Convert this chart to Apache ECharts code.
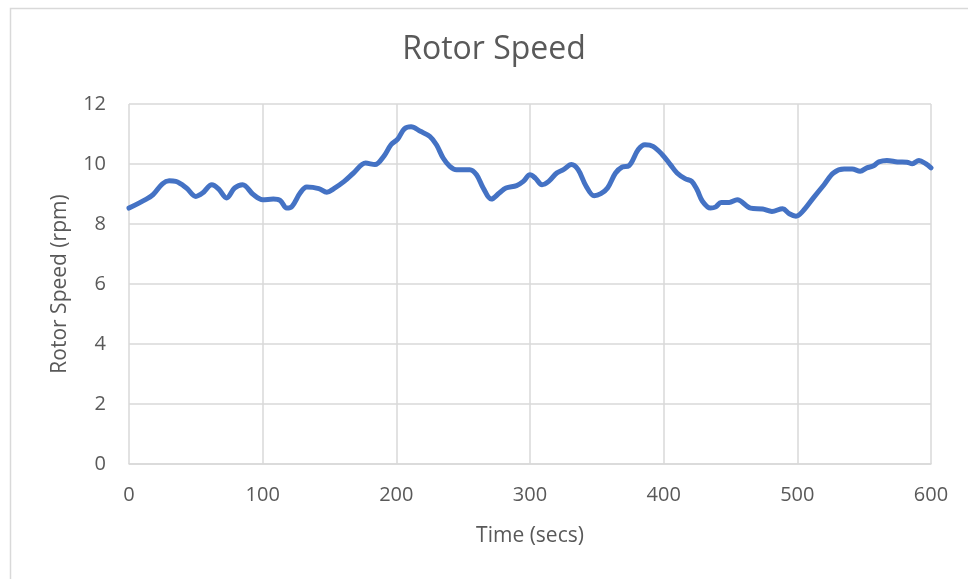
<!DOCTYPE html>
<html>
<head>
<meta charset="utf-8">
<script src="https://cdn.jsdelivr.net/npm/echarts@6/dist/echarts.min.js"></script>
<style>
  html, body { margin: 0; padding: 0; background: #ffffff; }
  #chart { width: 968px; height: 579px; }
</style>
</head>
<body>
<div id="chart"></div>
<script>
// Rotor speed samples over a ten-minute run
const timeSecs = [0, 13, 18, 25, 30, 35, 43, 50, 55, 62, 67, 73, 79, 85, 93, 100, 108, 113, 118, 122,
  128, 133, 142, 148, 153, 161, 168, 177, 184, 191, 196, 201, 206, 211, 218, 225, 230, 235, 240, 245,
  255, 260, 265, 271, 277, 282, 290, 295, 300, 304, 309, 314, 320, 325, 331, 336, 342, 348, 353, 358,
  364, 369, 374, 381, 386, 392, 399, 405, 410, 416, 421, 425, 429, 435, 439, 443, 449, 455, 465, 474,
  481, 489, 494, 499, 504, 512, 520, 527, 535, 541, 547, 552, 557, 561, 567, 575, 582, 586, 591, 596, 600];
const rotorRpm = [8.53, 8.83, 8.98, 9.34, 9.44, 9.42, 9.2, 8.92, 9.03, 9.31, 9.17, 8.87, 9.2, 9.31, 8.98, 8.81, 8.83, 8.79, 8.53, 8.59,
  9.03, 9.23, 9.18, 9.06, 9.17, 9.42, 9.7, 10.03, 9.98, 10.28, 10.64, 10.83, 11.17, 11.24, 11.09, 10.92, 10.64, 10.2, 9.92, 9.81,
  9.81, 9.64, 9.2, 8.83, 9.03, 9.2, 9.28, 9.42, 9.64, 9.53, 9.31, 9.42, 9.7, 9.81, 9.98, 9.81, 9.26, 8.94, 9.01, 9.2,
  9.7, 9.9, 9.94, 10.48, 10.64, 10.59, 10.31, 9.98, 9.7, 9.51, 9.42, 9.14, 8.76, 8.53, 8.57, 8.72, 8.72, 8.81, 8.53, 8.5,
  8.42, 8.51, 8.34, 8.26, 8.42, 8.87, 9.31, 9.7, 9.83, 9.83, 9.76, 9.87, 9.94, 10.07, 10.12, 10.07, 10.06, 10.01, 10.12, 10.01, 9.87];

const textColor = '#595959';
const gridColor = '#d9d9d9';
const fontFamily = '"Open Sans", "Noto Sans", sans-serif';

const chart = echarts.init(document.getElementById('chart'), null, { renderer: 'canvas' });

chart.setOption({
  backgroundColor: '#ffffff',
  animation: false,
  graphic: [{
    type: 'rect',
    left: 8, top: 6,
    shape: { width: 980, height: 600 },
    style: { fill: 'none', stroke: gridColor, lineWidth: 1.5 },
    silent: true
  }],
  title: {
    text: 'Rotor Speed',
    left: 489,
    top: 29,
    textAlign: 'center',
    textStyle: { color: textColor, fontFamily: fontFamily, fontSize: 32, fontWeight: 'normal' }
  },
  grid: { left: 129, top: 104, width: 802, height: 360, containLabel: false },
  xAxis: {
    type: 'value',
    min: 0, max: 600, interval: 100,
    name: 'Time (secs)',
    nameLocation: 'middle',
    nameGap: 62,
    nameTextStyle: { color: textColor, fontFamily: fontFamily, fontSize: 21 },
    axisLine: { show: true, lineStyle: { color: gridColor, width: 1.5 } },
    axisTick: { show: false },
    axisLabel: { color: textColor, fontFamily: fontFamily, fontSize: 20, margin: 21 },
    splitLine: { show: true, lineStyle: { color: gridColor, width: 1.5 } }
  },
  yAxis: {
    type: 'value',
    min: 0, max: 12, interval: 2,
    name: 'Rotor Speed (rpm)',
    nameLocation: 'middle',
    nameGap: 58,
    nameTextStyle: { color: textColor, fontFamily: fontFamily, fontSize: 21 },
    axisLine: { show: false },
    axisTick: { show: false },
    axisLabel: { color: textColor, fontFamily: fontFamily, fontSize: 20, margin: 23 },
    splitLine: { show: true, lineStyle: { color: gridColor, width: 1.5 } }
  },
  series: [{
    type: 'line',
    data: timeSecs.map((t, i) => [t, rotorRpm[i]]),
    smooth: 0.35,
    showSymbol: false,
    lineStyle: { color: '#4472c4', width: 5, cap: 'round', join: 'round' },
    itemStyle: { color: '#4472c4' }
  }]
});
</script>
</body>
</html>
